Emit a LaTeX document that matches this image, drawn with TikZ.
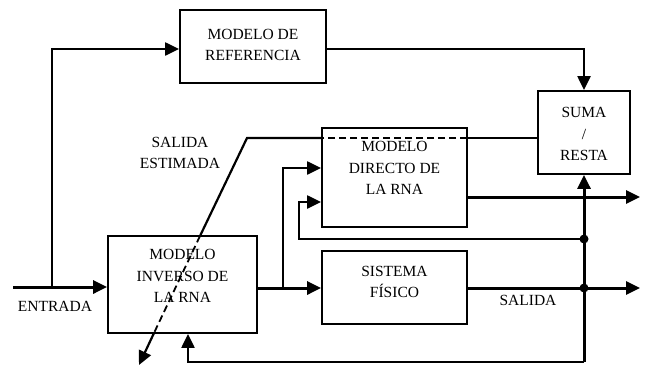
\documentclass[tikz,border=0pt]{standalone}
\usepackage{fontspec}
\setmainfont{Liberation Serif}
\usetikzlibrary{arrows.meta,calc}
\begin{document}
\begin{tikzpicture}[x=1pt,y=-1pt,
  blk/.style={draw,line width=1.8pt,inner sep=0pt},
  txt/.style={align=center,inner sep=0pt,font=\fontsize{15.5}{21.5}\selectfont},
  conn/.style={line width=2.2pt},
  heavy/.style={line width=3pt},
  tip/.style={-{Triangle[length=14pt,width=13pt]}},
  arr/.style={conn,tip},
  harr/.style={heavy,tip},
  dot/.style={circle,fill,inner sep=0pt,minimum size=9pt}]
\useasboundingbox (0,0) rectangle (647,367);

% blocks
\node[blk,minimum width=146pt,minimum height=73pt] (ref) at (253,46.5) {};
\node[blk,minimum width=92pt,minimum height=83pt] (suma) at (584,132.5) {};
\node[blk,minimum width=145pt,minimum height=99pt] (dir) at (394.5,177.5) {};
\node[blk,minimum width=149pt,minimum height=97pt] (inv) at (182.5,284.5) {};
\node[blk,minimum width=145pt,minimum height=73pt] (sis) at (394.5,287.5) {};

% block texts
\node[txt] (reft) at (253,45) {MODELO DE\\REFERENCIA};
\node[txt] (sumat) at (584,134) {SUMA\\/\\RESTA};
\node[txt] (dirt) at (394.5,168) {MODELO\\DIRECTO DE\\LA RNA};
\node[txt] (invt) at (182.5,276) {MODELO\\INVERSO DE\\LA RNA};
\node[txt] (sist) at (394.5,282) {SISTEMA\\FÍSICO};

% free labels
\node[txt] (lin) at (55,306) {ENTRADA};
\node[txt] (lout) at (528,300) {SALIDA};
\node[txt] (lest) at (180,153) {SALIDA\\ESTIMADA};

% coordinates
\coordinate (in) at (13,287);
\coordinate (split) at (52,287);
\coordinate (top) at (52,49);
\coordinate (refc) at (584,49);
\coordinate (bus) at (584,362);
\coordinate (fbl) at (188,362);
\coordinate (j1) at (584,239);
\coordinate (j2) at (584,288);
\coordinate (br) at (283,288);
\coordinate (brt) at (283,168);
\coordinate (lp1) at (299,239);
\coordinate (lp2) at (299,202);
\coordinate (o1) at (640,197);
\coordinate (o2) at (640,288);
\coordinate (e0) at (538,138);
\coordinate (e1) at (467,138);
\coordinate (e2) at (322,138);
\coordinate (e3) at (247,138);
\coordinate (e4) at (200,236);
\coordinate (e5) at (154,333);
\coordinate (e6) at (139,365);

% input and reference path
\draw[harr] (in) -- (inv.west |- in);
\draw[arr] (split) -- (top) -- (ref.west |- top);
\draw[arr] (ref.east |- refc) -- (refc) -- (suma.north);

% inverse model to plant and direct model
\draw[harr] (inv.east |- j2) -- (sis.west |- j2);
\draw[arr] (br) -- (brt) -- (dir.west |- brt);
\draw[arr] (j1) -- (lp1) -- (lp2) -- (dir.west |- lp2);

% outputs
\draw[harr] (dir.east |- o1) -- (o1);
\draw[harr] (sis.east |- o2) -- (o2);

% bus to sum and feedback to inverse model
\draw[harr] (bus) -- (suma.south);
\draw[arr] (bus) -- (fbl) -- (inv.south -| fbl);
\node[dot] (d1) at (j1) {};
\node[dot] (d2) at (j2) {};

% estimated output line, dashed where it passes behind blocks
\draw[conn] (e0) -- (e1);
\draw[line width=1.8pt,dash pattern=on 7pt off 4pt] (e1) -- (e2);
\draw[conn] (e2) -- (e3) -- (e4);
\draw[line width=1.8pt,dash pattern=on 7pt off 4pt] (e4) -- (e5);
\draw[arr] (e5) -- (e6);
\end{tikzpicture}
\end{document}
